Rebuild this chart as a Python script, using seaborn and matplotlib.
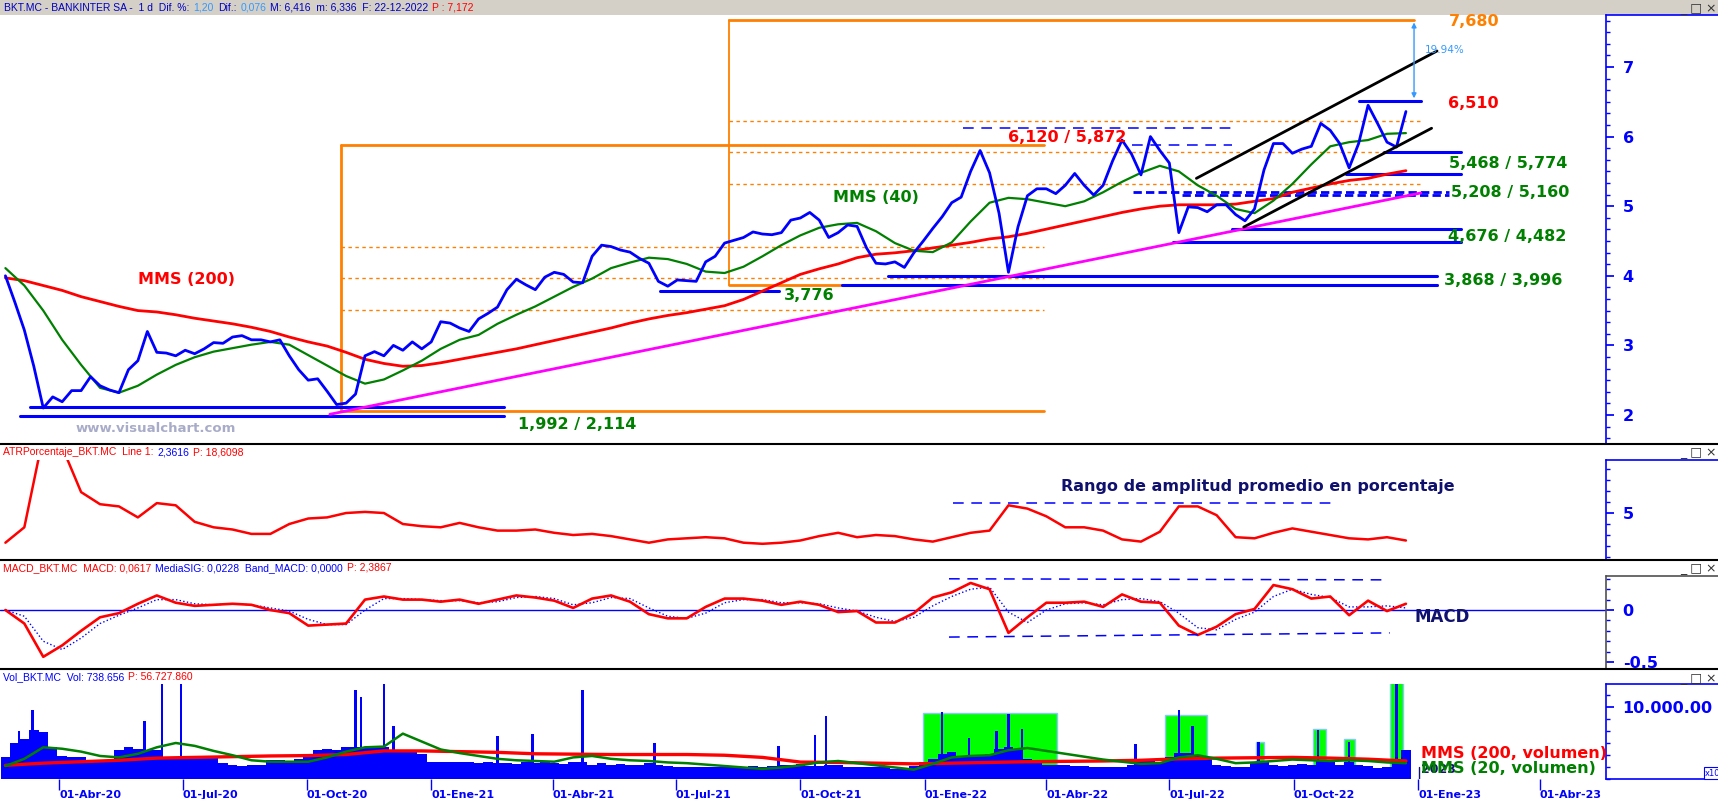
import matplotlib
matplotlib.use('Agg')
import matplotlib.pyplot as plt
import matplotlib.dates as mdates
import matplotlib.ticker as mticker
from matplotlib.lines import Line2D
from matplotlib.patches import Rectangle
import seaborn as sns
import pandas as pd

sns.set_theme(style='white')
plt.rcParams['font.family'] = ['DejaVu Sans']
plt.rcParams['axes.unicode_minus'] = False

# ---- datos ----
inicio = '2020-02-21'
# cierre semanal
precio = [4.00, 3.62, 3.22, 2.70, 2.10, 2.26, 2.19, 2.35, 2.35, 2.55,
          2.42, 2.36, 2.32, 2.65, 2.78, 3.20, 2.90, 2.89, 2.85, 2.93,
          2.88, 2.95, 3.04, 3.03, 3.12, 3.14, 3.08, 3.08, 3.05, 3.08,
          2.85, 2.65, 2.50, 2.52, 2.34, 2.15, 2.17, 2.30, 2.85, 2.91,
          2.85, 3.00, 2.93, 3.05, 2.95, 3.05, 3.34, 3.32, 3.25, 3.20,
          3.38, 3.46, 3.55, 3.80, 3.95, 3.87, 3.80, 3.98, 4.05, 4.02,
          3.91, 3.90, 4.28, 4.44, 4.42, 4.37, 4.34, 4.25, 4.18, 3.92,
          3.85, 3.94, 3.93, 3.92, 4.20, 4.28, 4.47, 4.51, 4.55, 4.63,
          4.60, 4.59, 4.62, 4.80, 4.83, 4.91, 4.80, 4.55, 4.62, 4.73,
          4.71, 4.40, 4.18, 4.17, 4.20, 4.12, 4.33, 4.50, 4.68, 4.85,
          5.05, 5.13, 5.50, 5.80, 5.48, 4.90, 4.05, 4.70, 5.15, 5.25,
          5.25, 5.18, 5.30, 5.47, 5.30, 5.16, 5.30, 5.65, 5.95, 5.75,
          5.45, 6.00, 5.80, 5.62, 4.62, 4.99, 4.98, 4.92, 5.02, 5.02,
          4.88, 4.79, 4.96, 5.52, 5.90, 5.90, 5.76, 5.82, 5.86, 6.19,
          6.09, 5.90, 5.55, 5.90, 6.45, 6.19, 5.92, 5.85, 6.36]
# medias cada dos semanas
mms200 = [3.97, 3.93, 3.86, 3.79, 3.70, 3.63, 3.56, 3.50, 3.48, 3.44,
          3.39, 3.35, 3.31, 3.26, 3.20, 3.12, 3.05, 2.99, 2.90, 2.80,
          2.74, 2.70, 2.71, 2.75, 2.80, 2.85, 2.90, 2.95, 3.01, 3.07,
          3.13, 3.19, 3.25, 3.32, 3.38, 3.43, 3.47, 3.52, 3.57, 3.66,
          3.78, 3.90, 4.02, 4.10, 4.17, 4.26, 4.31, 4.33, 4.36, 4.40,
          4.44, 4.48, 4.53, 4.56, 4.61, 4.67, 4.73, 4.79, 4.85, 4.91,
          4.96, 5.00, 5.02, 5.02, 5.02, 5.03, 5.07, 5.11, 5.20, 5.26,
          5.32, 5.37, 5.40, 5.46, 5.51]
mms40 = [4.11, 3.86, 3.50, 3.08, 2.72, 2.39, 2.32, 2.42, 2.58, 2.72,
         2.83, 2.91, 2.96, 3.01, 3.05, 3.01, 2.86, 2.71, 2.56, 2.45,
         2.51, 2.64, 2.78, 2.95, 3.08, 3.15, 3.31, 3.44, 3.56, 3.70,
         3.84, 3.96, 4.11, 4.19, 4.26, 4.24, 4.17, 4.06, 4.04, 4.13,
         4.28, 4.44, 4.58, 4.69, 4.74, 4.76, 4.64, 4.47, 4.36, 4.34,
         4.48, 4.78, 5.05, 5.12, 5.10, 5.05, 5.00, 5.07, 5.20, 5.35,
         5.48, 5.58, 5.50, 5.30, 5.15, 4.96, 4.90, 5.08, 5.32, 5.60,
         5.86, 5.92, 5.95, 6.04, 6.05]
atr = [2.3, 3.7, 12.0, 11.0, 6.9, 5.8, 5.6, 4.6, 5.9, 5.7,
       4.2, 3.7, 3.5, 3.1, 3.1, 4.0, 4.5, 4.6, 5.0, 5.1,
       5.0, 4.0, 3.8, 3.7, 4.1, 3.7, 3.4, 3.4, 3.5, 3.2,
       3.0, 3.1, 2.9, 2.6, 2.3, 2.6, 2.7, 2.8, 2.7, 2.3,
       2.2, 2.3, 2.5, 2.9, 3.2, 2.8, 3.0, 2.9, 2.6, 2.4,
       2.8, 3.2, 3.4, 5.7, 5.4, 4.7, 3.7, 3.7, 3.4, 2.6,
       2.4, 3.3, 5.6, 5.6, 4.8, 2.8, 2.7, 3.2, 3.6, 3.3,
       3.0, 2.7, 2.6, 2.8, 2.5]
macd = [0.00, -0.13, -0.45, -0.34, -0.20, -0.07, -0.03, 0.06, 0.14, 0.07,
        0.04, 0.05, 0.06, 0.05, 0.00, -0.03, -0.15, -0.14, -0.13, 0.10,
        0.13, 0.10, 0.10, 0.08, 0.10, 0.06, 0.10, 0.14, 0.12, 0.09,
        0.02, 0.11, 0.14, 0.08, -0.04, -0.08, -0.08, 0.03, 0.11, 0.11,
        0.09, 0.05, 0.08, 0.05, -0.02, -0.01, -0.12, -0.12, -0.03, 0.12,
        0.17, 0.26, 0.20, -0.22, -0.07, 0.07, 0.07, 0.08, 0.03, 0.15,
        0.08, 0.07, -0.15, -0.24, -0.16, -0.04, 0.01, 0.24, 0.20, 0.11,
        0.13, -0.05, 0.09, -0.01, 0.06]
macd_sig = [0.00, -0.06, -0.30, -0.38, -0.27, -0.13, -0.05, 0.02, 0.10, 0.10,
            0.06, 0.05, 0.06, 0.05, 0.02, -0.01, -0.09, -0.14, -0.14, 0.00,
            0.11, 0.11, 0.10, 0.09, 0.09, 0.07, 0.08, 0.12, 0.13, 0.11,
            0.05, 0.07, 0.12, 0.11, 0.02, -0.06, -0.08, -0.03, 0.07, 0.10,
            0.10, 0.07, 0.07, 0.06, 0.02, -0.01, -0.07, -0.11, -0.07, 0.04,
            0.13, 0.20, 0.22, -0.02, -0.12, 0.00, 0.06, 0.07, 0.05, 0.10,
            0.11, 0.08, -0.03, -0.17, -0.19, -0.09, -0.02, 0.13, 0.20, 0.15,
            0.12, 0.03, 0.03, 0.04, 0.02]
# volumen semanal (millones)
volumen = [3.1, 5.0, 5.5, 6.8, 6.5, 4.5, 3.2, 3.1, 3.0, 2.6,
           2.6, 2.5, 4.0, 4.5, 4.2, 4.0, 4.0, 3.1, 3.1, 3.2,
           3.1, 3.0, 3.0, 2.2, 1.9, 1.8, 1.9, 2.0, 2.6, 2.6,
           2.5, 2.8, 3.0, 4.0, 4.2, 4.0, 4.5, 4.5, 4.3, 4.5,
           4.4, 4.0, 4.0, 3.8, 3.5, 2.4, 2.4, 2.3, 2.4, 2.3,
           2.2, 2.3, 2.2, 2.2, 2.1, 2.3, 2.2, 2.4, 2.2, 2.1,
           2.4, 2.3, 2.0, 2.2, 2.0, 2.1, 1.9, 2.0, 2.2, 2.0,
           1.8, 1.7, 1.6, 1.7, 1.6, 1.6, 1.6, 1.7, 1.6, 1.8,
           1.7, 1.8, 1.9, 2.0, 2.1, 1.8, 1.8, 2.0, 1.9, 1.7,
           1.6, 1.6, 1.6, 1.6, 1.4, 1.5, 1.8, 2.4, 2.8, 3.5,
           3.8, 3.2, 3.4, 3.2, 3.5, 4.2, 4.4, 4.0, 2.8, 2.2,
           2.0, 2.0, 1.9, 1.8, 1.8, 1.7, 1.7, 1.7, 1.7, 2.0,
           2.6, 2.5, 2.4, 3.0, 3.6, 3.6, 3.3, 3.0, 1.9, 1.8,
           1.6, 1.6, 2.2, 2.3, 2.0, 1.8, 2.0, 2.1, 2.0, 2.5,
           2.3, 2.0, 2.4, 2.0, 1.8, 1.5, 1.6, 2.5, 4.0]
picos_fecha = ['2020-03-02', '2020-03-12', '2020-06-03', '2020-06-16', '2020-06-30',
               '2020-11-06', '2020-11-10', '2020-11-27', '2020-12-04', '2021-02-19',
               '2021-03-17', '2021-04-23', '2021-06-15', '2021-09-15', '2021-10-12',
               '2021-10-20', '2022-01-14', '2022-02-03', '2022-02-23', '2022-03-04',
               '2022-03-14', '2022-06-06', '2022-07-08', '2022-07-18', '2022-09-05',
               '2022-10-19', '2022-11-11', '2022-12-16']
picos_vol = [6.6, 9.6, 8.0, 13.5, 13.5, 12.4, 11.4, 13.5, 7.3, 6.0,
             6.3, 12.3, 5.0, 4.6, 6.1, 8.75, 9.3, 5.7, 6.6, 9.0,
             6.9, 4.9, 9.6, 7.3, 5.2, 6.8, 5.2, 13.5]
vol_mms200 = [1.9, 2.2, 2.4, 2.6, 2.9, 3.0, 3.1, 3.2, 3.25, 3.4,
              3.9, 3.9, 3.8, 3.7, 3.5, 3.45, 3.4, 3.4, 3.4, 3.3,
              3.0, 2.35, 2.3, 2.2, 2.1, 2.2, 2.3, 2.4, 2.45, 2.5,
              2.6, 2.8, 2.9, 2.95, 3.0, 2.9, 2.75, 2.5]
vol_mms20 = [1.8, 2.8, 4.4, 4.2, 3.8, 3.2, 3.0, 3.5, 4.4, 5.0,
             4.6, 3.9, 3.3, 2.6, 2.4, 2.4, 2.4, 3.0, 3.8, 4.4,
             4.5, 6.3, 5.2, 4.1, 3.6, 3.2, 2.8, 2.6, 2.5, 2.4,
             3.0, 3.2, 2.8, 2.6, 2.5, 2.3, 2.2, 2.0, 1.8, 1.6,
             1.4, 1.6, 1.9, 2.3, 2.5, 2.2, 1.9, 1.6, 1.3, 2.1,
             3.0, 3.2, 3.3, 4.0, 4.3, 3.9, 3.5, 3.1, 2.7, 2.4,
             2.1, 2.2, 3.0, 3.3, 2.8, 2.2, 2.3, 2.5, 2.7, 2.6,
             2.5, 2.6, 2.5, 2.3, 2.2]
zonas_verdes = [('2021-12-31', '2022-04-09', 9.1), ('2022-06-28', '2022-07-29', 8.9),
                ('2022-09-03', '2022-09-09', 5.2), ('2022-10-15', '2022-10-25', 7.0),
                ('2022-11-07', '2022-11-15', 5.5), ('2022-12-11', '2022-12-21', 13.5)]

semanas = pd.date_range(inicio, periods=len(precio), freq='W-FRI')
quincenas = pd.date_range(inicio, periods=len(mms200), freq='2W-FRI')
semanas4 = pd.date_range(inicio, periods=len(vol_mms200), freq='4W-FRI')

W, H = 1718, 799
AZUL = '#0000ff'
ROJO = '#ff0000'
VERDE = '#008000'
NARANJA = '#ff8000'
MARINO = '#10106e'
CELESTE = '#3399ff'

fig = plt.figure(figsize=(W / 100, H / 100), dpi=100)
fig.patch.set_facecolor('white')
renderer = fig.canvas.get_renderer()


def d(s):
    return mdates.date2num(pd.Timestamp(s))


def panel(y0, y1):
    return fig.add_axes([0, 1 - y1 / H, 1606 / W, (y1 - y0) / H])


def cabecera(x, y, partes, size=7.5):
    # trozos de texto de colores, uno tras otro
    for s, c in partes:
        t = fig.text(x / W, 1 - y / H, s, color=c, fontsize=size, family='Liberation Sans',
                     ha='left', va='center')
        x = t.get_window_extent(renderer).x1 + 4


def hline(y, x0=0, x1=W, color='black', lw=1.5):
    fig.add_artist(Line2D([x0 / W, x1 / W], [1 - y / H] * 2, color=color, lw=lw,
                          transform=fig.transFigure))


xmin, xmax = d('2020-02-17'), d('2023-05-20')
ax_p = panel(15, 444)
ax_a = panel(460, 560)
ax_m = panel(576, 669)
ax_v = panel(684, 779)

for ax in (ax_p, ax_a, ax_m, ax_v):
    ax.set_xlim(xmin, xmax)
    ax.set_facecolor('white')
    for s in ('top', 'left', 'bottom'):
        ax.spines[s].set_visible(False)
    ax.spines['right'].set_color(AZUL)
    ax.spines['right'].set_linewidth(1.2)
    ax.yaxis.tick_right()
    ax.tick_params(axis='y', which='both', right=True, colors=AZUL, direction='out')
    ax.tick_params(axis='y', which='major', length=6, labelsize=11.5, pad=6)
    ax.tick_params(axis='y', which='minor', length=3)
    ax.tick_params(axis='x', bottom=False, labelbottom=False)
ax_m.spines['right'].set_color('#505050')

# ---- panel de precio ----
ax = ax_p
ax.set_ylim(1.583, 7.747)
ax.yaxis.set_major_locator(mticker.MultipleLocator(1))
ax.yaxis.set_minor_locator(mticker.MultipleLocator(1 / 6))
ax.yaxis.set_major_formatter(mticker.FormatStrFormatter('%d'))

dash_or = dict(color=NARANJA, lw=1, ls=(0, (2.5, 2.5)), zorder=1)
for lv in [4.412, 3.961, 3.51]:
    ax.plot([d('2020-10-26'), d('2022-03-30')], [lv, lv], **dash_or)
for lv in [6.224, 5.774, 5.324]:
    ax.plot([d('2021-08-09'), d('2023-01-03')], [lv, lv], **dash_or)
sol_or = dict(color=NARANJA, lw=2, zorder=2)
ax.plot([d('2020-10-26')] * 2, [2.05, 5.872], **sol_or)
ax.plot([d('2020-10-26'), d('2022-03-30')], [5.872, 5.872], **sol_or)
ax.plot([d('2020-10-26'), d('2022-03-30')], [2.05, 2.05], **sol_or)
ax.plot([d('2021-08-09')] * 2, [3.868, 7.68], color=NARANJA, lw=1.3, zorder=2)
ax.plot([d('2021-08-09'), d('2022-12-29')], [7.68, 7.68], **sol_or)
ax.plot([d('2021-08-09'), d('2023-01-15')], [3.868, 3.868], **sol_or)

soportes = [('2020-03-03', '2021-02-24', 1.992), ('2020-03-10', '2021-02-24', 2.114),
            ('2021-06-19', '2021-09-15', 3.776), ('2021-11-01', '2023-01-15', 3.868),
            ('2021-12-05', '2023-01-15', 3.996), ('2022-07-04', '2023-02-02', 4.482),
            ('2022-08-16', '2023-02-02', 4.676), ('2022-11-09', '2023-02-02', 5.468),
            ('2022-12-07', '2023-02-02', 5.774), ('2022-11-18', '2023-01-03', 6.51)]
for a, b, lv in soportes:
    ax.plot([d(a), d(b)], [lv, lv], color=AZUL, lw=2.2, zorder=3)
for a, b, lv in [('2022-06-04', '2023-01-24', 5.208), ('2022-07-10', '2023-01-24', 5.160)]:
    ax.plot([d(a), d(b)], [lv, lv], color=AZUL, lw=2, ls=(0, (3, 1.5)), zorder=3)
for a, b, lv in [('2022-01-29', '2022-08-16', 6.12), ('2022-06-03', '2022-08-16', 5.872)]:
    ax.plot([d(a), d(b)], [lv, lv], color=AZUL, lw=1.1, ls=(0, (7, 5)), zorder=3)

sns.lineplot(x=quincenas, y=mms200, ax=ax, color=ROJO, linewidth=2, zorder=4)
sns.lineplot(x=quincenas, y=mms40, ax=ax, color=VERDE, linewidth=1.6, zorder=4)
sns.lineplot(x=semanas, y=precio, ax=ax, color=AZUL, linewidth=2, zorder=5)

ax.plot([d('2020-10-18'), d('2023-01-03')], [2.01, 5.19], color='#ff00ff', lw=2, zorder=6)
ax.plot([d('2022-07-21'), d('2023-01-15')], [5.40, 7.23], color='black', lw=2, zorder=6)
ax.plot([d('2022-08-25'), d('2023-01-11')], [4.70, 6.12], color='black', lw=2, zorder=6)

ax.annotate('', xy=(d('2022-12-29'), 7.68), xytext=(d('2022-12-29'), 6.51),
            arrowprops=dict(arrowstyle='<|-|>', color=CELESTE, lw=1, mutation_scale=7), zorder=6)
ax.text(d('2023-01-06'), 7.24, '19.94%', color=CELESTE, fontsize=7.5, va='center', zorder=7)

lbl = dict(fontsize=11.5, fontweight='bold', va='center', ha='left', zorder=7)
ax.text(d('2020-05-29'), 3.94, 'MMS (200)', color=ROJO, **lbl)
ax.text(d('2021-10-25'), 5.12, 'MMS (40)', color=VERDE, **lbl)
ax.text(d('2021-09-19'), 3.71, '3,776', color=VERDE, **lbl)
ax.text(d('2021-03-06'), 1.87, '1,992 / 2,114', color=VERDE, **lbl)
ax.text(d('2022-03-04'), 5.99, '6,120 / 5,872', color=ROJO, **lbl)
ax.text(d('2023-01-24'), 7.66, '7,680', color=NARANJA, **lbl)
ax.text(d('2023-01-23'), 6.48, '6,510', color=ROJO, **lbl)
ax.text(d('2023-01-24'), 5.62, '5,468 / 5,774', color=VERDE, **lbl)
ax.text(d('2023-01-25'), 5.20, '5,208 / 5,160', color=VERDE, **lbl)
ax.text(d('2023-01-23'), 4.57, '4,676 / 4,482', color=VERDE, **lbl)
ax.text(d('2023-01-20'), 3.93, '3,868 / 3,996', color=VERDE, **lbl)
ax.text(d('2020-04-13'), 1.81, 'www.visualchart.com', color='#a8acc8', fontsize=9.5,
        fontweight='bold', va='center', zorder=7)

# ---- ATR % ----
ax = ax_a
ax.set_ylim(0.727, 9.82)
ax.yaxis.set_major_locator(mticker.MultipleLocator(5))
ax.yaxis.set_minor_locator(mticker.MultipleLocator(1))
ax.yaxis.set_major_formatter(mticker.FormatStrFormatter('%d'))
sns.lineplot(x=quincenas, y=atr, ax=ax, color=ROJO, linewidth=1.8)
ax.plot([d('2022-01-22'), d('2022-10-30')], [5.9, 5.9], color=AZUL, lw=1.1, ls=(0, (7, 5)))
ax.text(d('2022-04-12'), 7.45, 'Rango de amplitud promedio en porcentaje', color=MARINO,
        fontsize=11.5, fontweight='bold', va='center')

# ---- MACD ----
ax = ax_m
ax.set_ylim(-0.567, 0.327)
ax.yaxis.set_major_locator(mticker.MultipleLocator(0.5))
ax.yaxis.set_minor_locator(mticker.MultipleLocator(0.1))
ax.yaxis.set_major_formatter(mticker.FuncFormatter(lambda v, p: '0' if abs(v) < 1e-9 else f'{v:g}'))
ax.axhline(0, color=AZUL, lw=1)
sns.lineplot(x=quincenas, y=macd_sig, ax=ax, color=AZUL, linewidth=1, linestyle=':')
sns.lineplot(x=quincenas, y=macd, ax=ax, color=ROJO, linewidth=1.9)
ax.plot([d('2022-01-19'), d('2022-12-07')], [0.30, 0.29], color=AZUL, lw=1.1, ls=(0, (7, 5)))
ax.plot([d('2022-01-19'), d('2022-12-11')], [-0.26, -0.22], color=AZUL, lw=1.1, ls=(0, (7, 5)))
ax.text(d('2022-12-29'), -0.07, 'MACD', color=MARINO, fontsize=12, fontweight='bold', va='center')

# ---- volumen ----
ax = ax_v
ax.set_ylim(0, 13.19)
ax.yaxis.set_major_locator(mticker.FixedLocator([10]))
ax.yaxis.set_minor_locator(mticker.MultipleLocator(10 / 6))
ax.yaxis.set_major_formatter(mticker.FixedFormatter(['10.000.00']))
for a, b, top in zonas_verdes:
    ax.add_patch(Rectangle((d(a), 0), d(b) - d(a), top, facecolor='#00ff00',
                           edgecolor='#88c8ff', lw=1, zorder=1))
ax.bar(semanas, volumen, width=7, color=AZUL, linewidth=0, edgecolor='none', zorder=2)
ax.bar(pd.to_datetime(picos_fecha), picos_vol, width=1.8, color=AZUL, linewidth=0,
       edgecolor='none', zorder=2)
sns.lineplot(x=semanas4, y=vol_mms200, ax=ax, color=ROJO, linewidth=2.4, zorder=3)
sns.lineplot(x=quincenas, y=vol_mms20, ax=ax, color=VERDE, linewidth=1.8, zorder=3)
ax.plot([d('2023-01-02')] * 2, [0, 1.6], color=MARINO, lw=1, zorder=3)
ax.text(d('2023-01-03'), 1.25, '2023', color=MARINO, fontsize=9, fontweight='bold',
        va='center', zorder=3)
ax.text(d('2023-01-03'), 3.5, 'MMS (200, volumen)', color=ROJO, fontsize=11.5,
        fontweight='bold', va='center', zorder=4)
ax.text(d('2023-01-03'), 1.4, 'MMS (20, volumen)', color=VERDE, fontsize=11.5,
        fontweight='bold', va='center', zorder=4)

meses = {1: 'Ene', 4: 'Abr', 7: 'Jul', 10: 'Oct'}
ticks = pd.date_range('2020-04-01', '2023-04-01', freq='QS')
ax.set_xticks(mdates.date2num(ticks))
ax.set_xticklabels([f'01-{meses[t.month]}-{t.strftime("%y")}' for t in ticks])
ax.tick_params(axis='x', bottom=True, labelbottom=True, colors=AZUL, direction='out',
               length=8, width=1, labelsize=8, pad=0)
for t in ax.get_xticklabels():
    t.set_ha('left')
    t.set_fontweight('bold')
for a in (ax_p, ax_a, ax_m, ax_v):
    for t in a.get_yticklabels():
        t.set_fontweight('bold')

# ---- marcos, cabeceras ----
fig.add_artist(Rectangle((0, 1 - 15 / H), 1, 15 / H, transform=fig.transFigure,
                         facecolor='#d4d0c8', edgecolor='none', zorder=-1))
for y in (444, 560, 669):
    hline(y)
for y in (15, 460, 684, 779):
    hline(y, 1606, W, color=AZUL, lw=1.2)
hline(576, 1606, W, color='#505050', lw=1.2)
for y in (8, 452, 568, 678):
    fig.text(1680 / W, 1 - y / H, '_ \u25a1 \u00d7', color='#303030', fontsize=9,
             ha='left', va='center')

cabecera(4, 8, [('BKT.MC - BANKINTER SA -  1 d  Dif. %:', '#0000c0'), ('1,20', CELESTE),
                ('Dif.:', '#0000c0'), ('0,076', CELESTE),
                ('M: 6,416  m: 6,336  F: 22-12-2022', '#0000c0'), ('P : 7,172', ROJO)])
cabecera(3, 452, [('ATRPorcentaje_BKT.MC  Line 1:', ROJO), ('2,3616', AZUL),
                  ('P: 18,6098', ROJO)])
cabecera(3, 568, [('MACD_BKT.MC  MACD: 0,0617', ROJO),
                  ('MediaSIG: 0,0228  Band_MACD: 0,0000', AZUL), ('P: 2,3867', ROJO)])
cabecera(3, 677, [('Vol_BKT.MC  Vol: 738.656', AZUL), ('P: 56.727.860', ROJO)])

fig.text(1705 / W, 1 - 773 / H, 'x10', color=AZUL, fontsize=6, ha='left', va='center',
         bbox=dict(facecolor='white', edgecolor=AZUL, pad=1, lw=0.8))

fig.savefig('out.png', dpi=100)
